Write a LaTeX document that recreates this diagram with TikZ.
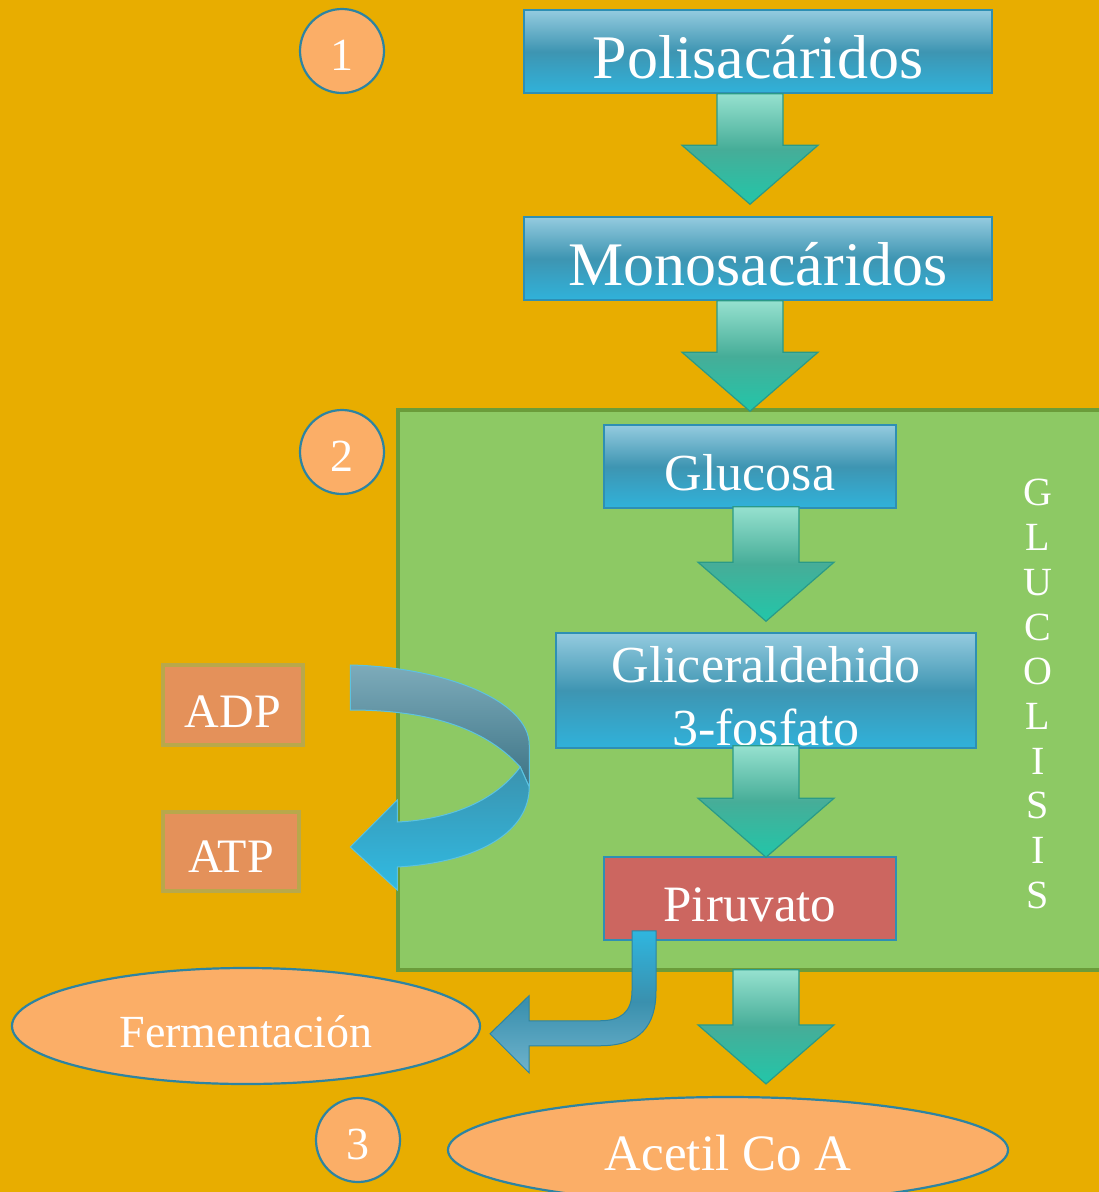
\documentclass[tikz,border=0pt]{standalone}
\usepackage{fontspec}
\setmainfont{Liberation Serif}
\usetikzlibrary{shapes.geometric,calc}
\definecolor{bg}{HTML}{E8AD00}
\definecolor{greenfill}{HTML}{8DC964}
\definecolor{greenedge}{HTML}{6B9C3A}
\definecolor{boxtop}{HTML}{94CBDF}
\definecolor{boxmid}{HTML}{3E95B2}
\definecolor{boxbot}{HTML}{30B2DA}
\definecolor{boxedge}{HTML}{2E8FB4}
\definecolor{arrtop}{HTML}{96E1CF}
\definecolor{arrmid}{HTML}{46AD98}
\definecolor{arrbot}{HTML}{22C6A9}
\definecolor{arredge}{HTML}{2A9A88}
\definecolor{salmon}{HTML}{FBAE67}
\definecolor{ovaledge}{HTML}{2D84A2}
\definecolor{piru}{HTML}{CC6660}
\definecolor{energyfill}{HTML}{E4915A}
\definecolor{energyedge}{HTML}{B8A84B}
\definecolor{backtop}{HTML}{7DABBA}
\definecolor{backbot}{HTML}{3C7385}
\definecolor{fronttop}{HTML}{3B93AF}
\definecolor{frontbot}{HTML}{30BBE3}
\definecolor{ribbonedge}{HTML}{5CC3E0}
\definecolor{benttop}{HTML}{2FB6DF}
\definecolor{bentmid}{HTML}{3A90AE}
\definecolor{bentbot}{HTML}{6FB3CC}
\tikzset{
  box/.style={draw=boxedge, line width=1.5pt, top color=boxtop, bottom color=boxbot, middle color=boxmid, text=white, inner sep=0pt},
  blockarr/.style={draw=arredge, line width=1.2pt, top color=arrtop, bottom color=arrbot, middle color=arrmid, line join=miter},
  numcirc/.style={circle, draw=ovaledge, line width=2.2pt, fill=salmon, text=white, minimum size=84pt, inner sep=0pt, font=\fontsize{46}{50}\selectfont, text height=38pt, text depth=0pt},
  oval/.style={ellipse, draw=ovaledge, line width=2.2pt, fill=salmon, text=white, inner sep=0pt},
  energy/.style={draw=energyedge, line width=4.5pt, fill=energyfill, text=white, inner sep=0pt, font=\fontsize{48}{52}\selectfont, text depth=0pt},
}
\newcommand\blockarrow[2]{%
  \path[blockarr] let \p1=(#1), \p2=(#2) in
    (\x1-33pt,\y1) -- (\x1+33pt,\y1) -- (\x1+33pt,\y2+59pt) -- (\x1+68pt,\y2+59pt)
    -- (\x1,\y2) -- (\x1-68pt,\y2+59pt) -- (\x1-33pt,\y2+59pt) -- cycle;}
\begin{document}
\begin{tikzpicture}[x=1pt,y=-1pt]
\clip (0,0) rectangle (1099,1192);
\fill[bg] (0,0) rectangle (1099,1192);

% glycolysis zone
\node[draw=greenedge, line width=4pt, fill=greenfill, minimum width=712pt, minimum height=560pt, inner sep=0pt] (zone) at (754,690) {};

% step numbers
\node[numcirc] (n1) at (342,51) {1};
\node[numcirc] (n2) at (342,452) {2};
\node[numcirc] (n3) at (358,1140) {3};

% boxes
\node[box, minimum width=468pt, minimum height=83pt, font=\fontsize{62}{70}\selectfont, text height=53pt, text depth=0pt] (poli) at (758,51.5) {Polisacáridos};
\node[box, minimum width=468pt, minimum height=83pt, font=\fontsize{62}{70}\selectfont, text height=53pt, text depth=0pt] (mono) at (758,258.5) {Monosacáridos};
\node[box, minimum width=292pt, minimum height=83pt, font=\fontsize{52}{60}\selectfont, text height=47pt, text depth=0pt] (gluc) at (750,466.5) {Glucosa};
\node[box, minimum width=420pt, minimum height=115pt, font=\fontsize{52}{63}\selectfont] (glic) at (766,690.5) {\raisebox{8.5pt}[0pt][0pt]{\begin{tabular}[t]{@{}c@{}}Gliceraldehido\\3-fosfato\end{tabular}}};
\node[draw=boxedge, line width=1.5pt, fill=piru, text=white, inner sep=0pt, minimum width=292pt, minimum height=83pt, font=\fontsize{51}{60}\selectfont, text height=45pt, text depth=0pt] (piru) at (750,898.5) {Piruvato};

% vertical label
\node[text=white, align=center, font=\fontsize{40}{44.7}\selectfont] (gl) at (1038,694) {G\\L\\U\\C\\O\\L\\I\\S\\I\\S};

% energy boxes
\node[energy, minimum width=140pt, minimum height=80pt, text height=44pt] (adp) at (233,705) {ADP};
\node[energy, minimum width=136pt, minimum height=79pt, text height=41pt] (atp) at (231,851.5) {ATP};

% end products
\node[oval, minimum width=468pt, minimum height=116pt, font=\fontsize{46}{50}\selectfont, text height=42pt, text depth=0pt] (ferm) at (246,1026) {Fermentación};
\node[oval, minimum width=560pt, minimum height=106pt, font=\fontsize{51}{56}\selectfont, text height=40pt, text depth=0pt] (acet) at (728,1150) {Acetil Co A};

% block arrows
\blockarrow{$(poli.south)+(-8,0)$}{$(mono.north)+(0,-12)$}
\blockarrow{$(mono.south)+(-8,0)$}{$(gluc.north)+(0,-13)$}
\blockarrow{$(gluc.south)+(16,-2)$}{$(glic.north)+(0,-11)$}
\blockarrow{$(glic.south)+(0,-3)$}{$(piru.north)+(0,1)$}
\blockarrow{$(piru.south)+(16,29)$}{$(acet.north)+(0,-12)$}

% ADP -> ATP curved ribbon arrow
\begin{scope}[shift={(adp.east)}]
  \path[draw=ribbonedge, line width=1pt, top color=backtop, bottom color=backbot]
    (45,-40) .. controls (137,-38) and (224,-5) .. (224,40) -- (224,82) -- (215,62)
    .. controls (177,20) and (117,5) .. (45,5) -- cycle;
  \path[draw=ribbonedge, line width=1pt, top color=fronttop, bottom color=frontbot]
    (215,62) .. controls (187,100) and (137,115) .. (92,117) -- (92,95) -- (45,142)
    -- (92,185) -- (92,162) .. controls (177,157) and (224,125) .. (224,82) -- cycle;
\end{scope}

% Piruvato -> Fermentacion bent arrow
\begin{scope}[shift={(piru.south)}]
  \path[draw=ovaledge, line width=1pt, top color=benttop, bottom color=bentbot, middle color=bentmid]
    (-118,-10) -- (-118,50) .. controls (-118,72) and (-130,80) .. (-150,80) -- (-221,80)
    -- (-221,55) -- (-260,93) -- (-221,132) -- (-221,105) -- (-150,105)
    .. controls (-110,105) and (-94,85) .. (-94,50) -- (-94,-10) -- cycle;
\end{scope}
\end{tikzpicture}
\end{document}
